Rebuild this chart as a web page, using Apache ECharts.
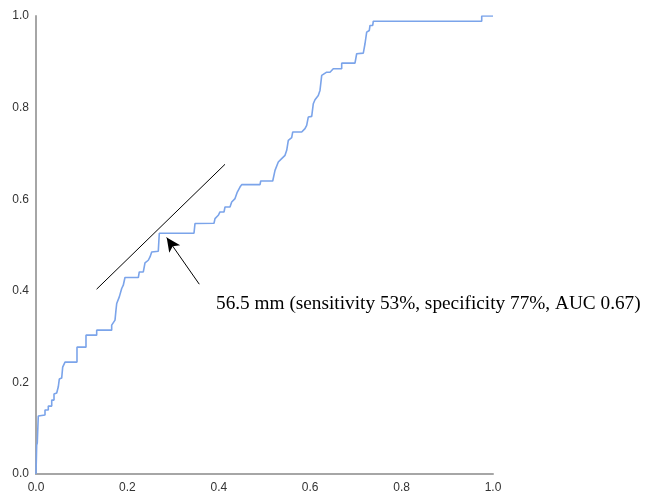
<!DOCTYPE html>
<html>
<head>
<meta charset="utf-8">
<script src="https://cdn.jsdelivr.net/npm/echarts@6/dist/echarts.min.js"></script>
<style>
  html, body { margin: 0; padding: 0; background: #fff; }
  #chart { width: 647px; height: 495px; }
</style>
</head>
<body>
<div id="chart"></div>
<script>
// ROC curve vertices (1 - specificity, sensitivity)
const fpr = [
  0, 0.0015, 0.0028, 0.005, 0.0197, 0.0197, 0.0269, 0.0269, 0.0344, 0.0344,
  0.0394, 0.0394, 0.0453, 0.0488, 0.051, 0.0562, 0.0584, 0.0635, 0.0897, 0.0897,
  0.1094, 0.1094, 0.1328, 0.1328, 0.1656, 0.1656, 0.1729, 0.175, 0.1766, 0.1823,
  0.1875, 0.191, 0.1947, 0.2239, 0.226, 0.2348, 0.2385, 0.2457, 0.2495, 0.2532,
  0.2676, 0.2698, 0.3457, 0.3479, 0.3895, 0.3917, 0.3989, 0.4026, 0.4114, 0.4136,
  0.4245, 0.4282, 0.4355, 0.4405, 0.4464, 0.4501, 0.4902, 0.4917, 0.518, 0.523,
  0.5302, 0.5376, 0.5449, 0.5486, 0.5521, 0.5595, 0.5617, 0.5814, 0.5886, 0.5923,
  0.5958, 0.6033, 0.6068, 0.6105, 0.6177, 0.6214, 0.6252, 0.6274, 0.6361, 0.6433,
  0.6505, 0.6543, 0.6689, 0.6689, 0.698, 0.7017, 0.7162, 0.7199, 0.7236, 0.7293,
  0.7309, 0.7368, 0.7381, 0.9753, 0.9753, 1.0
];
const tpr = [
  0, 0.0632, 0.0676, 0.1265, 0.1287, 0.1396, 0.1396, 0.1483, 0.1483, 0.1614,
  0.1614, 0.1745, 0.1767, 0.1904, 0.2072, 0.2094, 0.2334, 0.2443, 0.2443, 0.277,
  0.277, 0.3032, 0.3032, 0.3141, 0.3141, 0.325, 0.3359, 0.3577, 0.3723, 0.3867,
  0.405, 0.4122, 0.429, 0.429, 0.4412, 0.4412, 0.4609, 0.4667, 0.4739, 0.4848,
  0.4864, 0.5256, 0.5256, 0.5468, 0.5474, 0.5577, 0.5649, 0.5721, 0.5721, 0.583,
  0.583, 0.5939, 0.6013, 0.6157, 0.6266, 0.6318, 0.6318, 0.6397, 0.6397, 0.663,
  0.6811, 0.6885, 0.6957, 0.7067, 0.7285, 0.7344, 0.7466, 0.7466, 0.754, 0.7612,
  0.7793, 0.7808, 0.8085, 0.8172, 0.8266, 0.8375, 0.8702, 0.8702, 0.8773, 0.8773,
  0.8848, 0.8848, 0.8848, 0.897, 0.897, 0.9176, 0.9189, 0.9394, 0.9647, 0.9684,
  0.9793, 0.9793, 0.9887, 0.9887, 1.0, 1.0
];

// annotation: tangent line and arrow to the cut-off point
const tangentLine = [[0.1326, 0.4035], [0.4136, 0.6762]];
const arrowFrom = [0.3573, 0.4144];
const arrowTo = [0.286, 0.5163];
const cutoffLabel = "56.5 mm (sensitivity 53%, specificity 77%, AUC 0.67)";

const axisTicks = [0, 0.2, 0.4, 0.6, 0.8, 1.0];

const chart = echarts.init(document.getElementById("chart"));

const axisCommon = {
  type: "value",
  min: axisTicks[0],
  max: axisTicks[axisTicks.length - 1],
  interval: 0.2,
  axisLine: { show: true, lineStyle: { color: "#a6a6a6", width: 2 } },
  axisTick: { show: false },
  splitLine: { show: false },
  axisLabel: {
    color: "#333",
    fontFamily: "Liberation Sans",
    fontSize: 12,
    formatter: (v) => v.toFixed(1),
  },
};

chart.setOption({
  animation: false,
  grid: { left: 36, right: 154, top: 16, bottom: 21 },
  xAxis: Object.assign({}, axisCommon, {
    axisLabel: Object.assign({}, axisCommon.axisLabel, { margin: 8 }),
  }),
  yAxis: Object.assign({}, axisCommon, {
    axisLabel: Object.assign({}, axisCommon.axisLabel, { margin: 7 }),
  }),
  series: [
    {
      name: "ROC",
      type: "line",
      data: fpr.map((x, i) => [x, tpr[i]]),
      symbol: "none",
      lineStyle: { color: "#7ba4ea", width: 1.6 },
      markLine: {
        silent: true,
        symbol: ["none", "arrow"],
        symbolSize: [10, 14],
        label: { show: false },
        lineStyle: { color: "#000", width: 1, type: "solid" },
        data: [[{ coord: arrowFrom }, { coord: arrowTo }]],
      },
    },
    {
      name: "Tangent",
      type: "line",
      data: tangentLine,
      symbol: "none",
      lineStyle: { color: "#000", width: 1 },
    },
  ],
  graphic: [
    {
      type: "text",
      left: 216,
      top: 294,
      style: {
        text: cutoffLabel,
        fill: "#000",
        font: "19.3px 'Liberation Serif'",
      },
    },
  ],
});
</script>
</body>
</html>
